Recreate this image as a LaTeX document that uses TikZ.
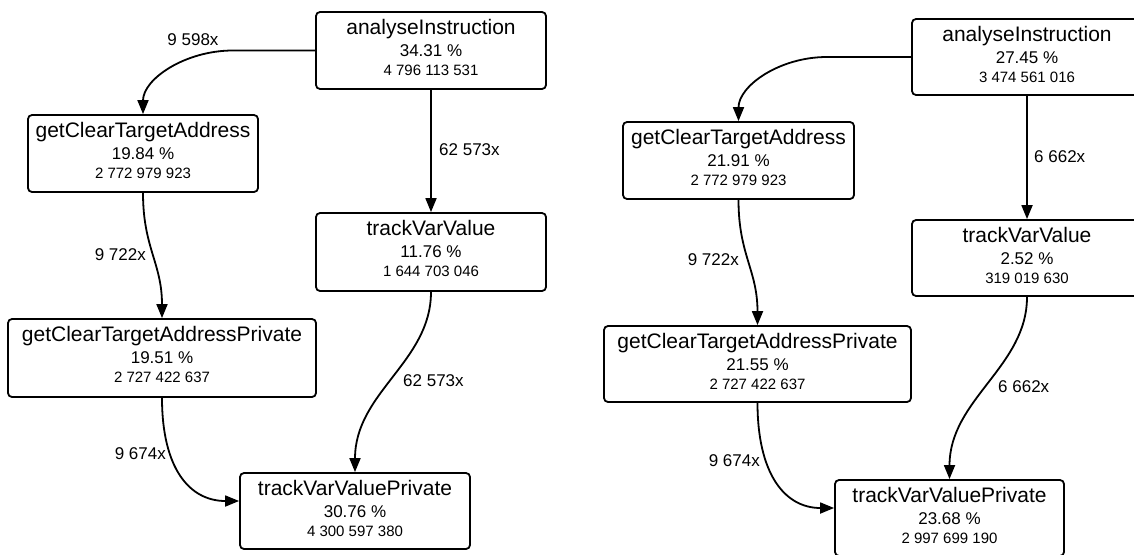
\documentclass[tikz,border=0pt]{standalone}
\usepackage{fontspec}
\setmainfont{Liberation Sans}
\usetikzlibrary{arrows.meta,calc}
\tikzset{
  fnbox/.style={draw, line width=1.8pt, rounded corners=4pt, inner sep=0pt, fill=white},
  conn/.style={line width=1.8pt, -{Triangle[length=14pt,width=11pt]}},
  ttl/.style={inner sep=0pt, font=\fontsize{21}{21}\selectfont},
  pct/.style={inner sep=0pt, font=\fontsize{17}{17}\selectfont},
  num/.style={inner sep=0pt, font=\fontsize{15}{15}\selectfont},
  lbl/.style={inner sep=0pt, font=\fontsize{17}{17}\selectfont},
}
\newcommand\callbox[8]{%
  \node[fnbox, minimum width=#4pt, minimum height=#5pt] (#1) at (#2,#3) {};
  \node[ttl, anchor=base] (#1-t) at ($(#1.north)+(0,23)$) {#6};
  \node[pct, anchor=base] (#1-p) at ($(#1.north)+(0,45)$) {#7};
  \node[num, anchor=base] (#1-n) at ($(#1.north)+(0,64)$) {#8};
}
\begin{document}
\begin{tikzpicture}[x=1pt,y=-1pt]
\useasboundingbox (0,0) rectangle (1134,554);
\clip (0,0) rectangle (1134,554);
\fill[white] (0,0) rectangle (1134,554);
% left diagram
\callbox{aL}{431}{50.5}{230}{77}{analyseInstruction}{34.31 \%}{4 796 113 531}
\callbox{tL}{431}{252}{230}{78}{trackVarValue}{11.76 \%}{1 644 703 046}
\callbox{gL}{143}{153.5}{230}{77}{getClearTargetAddress}{19.84 \%}{2 772 979 923}
\callbox{pL}{162}{358}{308}{78}{getClearTargetAddressPrivate}{19.51 \%}{2 727 422 637}
\callbox{vL}{355}{511}{230}{76}{trackVarValuePrivate}{30.76 \%}{4 300 597 380}
\coordinate (bL) at (233,50.5);
\draw[conn] (aL.west) -- (bL) .. controls +(-48,0) and +(0,-35) .. (gL.north);
\draw[conn] (aL.south) -- (tL.north);
\draw[conn] (gL.south) .. controls +(0,55) and +(0,-55) .. (pL.north);
\draw[conn] (tL.south) .. controls +(0,70) and +(0,-80) .. (vL.north);
\draw[conn] (pL.south) .. controls +(0,70) and +(-50,0) .. ([yshift=10pt]vL.west);
\node[lbl] (l1) at (193,40) {9 598x};
\node[lbl, anchor=west] (l2) at (439,150) {62 573x};
\node[lbl, anchor=east] (l3) at (146,255) {9 722x};
\node[lbl, anchor=west] (l4) at (403,381) {62 573x};
\node[lbl, anchor=east] (l5) at (166,454) {9 674x};
% right diagram
\callbox{aR}{1027}{57}{230}{76}{analyseInstruction}{27.45 \%}{3 474 561 016}
\callbox{tR}{1027}{258}{230}{76}{trackVarValue}{2.52 \%}{319 019 630}
\callbox{gR}{738.5}{160.5}{231}{77}{getClearTargetAddress}{21.91 \%}{2 772 979 923}
\callbox{pR}{757.5}{364}{307}{76}{getClearTargetAddressPrivate}{21.55 \%}{2 727 422 637}
\callbox{vR}{949.5}{518}{229}{76}{trackVarValuePrivate}{23.68 \%}{2 997 699 190}
\coordinate (bR) at (827,57);
\draw[conn] (aR.west) -- (bR) .. controls +(-48,0) and +(0,-35) .. (gR.north);
\draw[conn] (aR.south) -- (tR.north);
\draw[conn] (gR.south) .. controls +(0,55) and +(0,-55) .. (pR.north);
\draw[conn] (tR.south) .. controls +(0,70) and +(0,-80) .. (vR.north);
\draw[conn] (pR.south) .. controls +(0,70) and +(-50,0) .. ([yshift=10pt]vR.west);
\node[lbl, anchor=west] (r2) at (1034,157) {6 662x};
\node[lbl, anchor=east] (r3) at (739,260) {9 722x};
\node[lbl, anchor=west] (r4) at (998,387) {6 662x};
\node[lbl, anchor=east] (r5) at (760,461) {9 674x};
\end{tikzpicture}
\end{document}
